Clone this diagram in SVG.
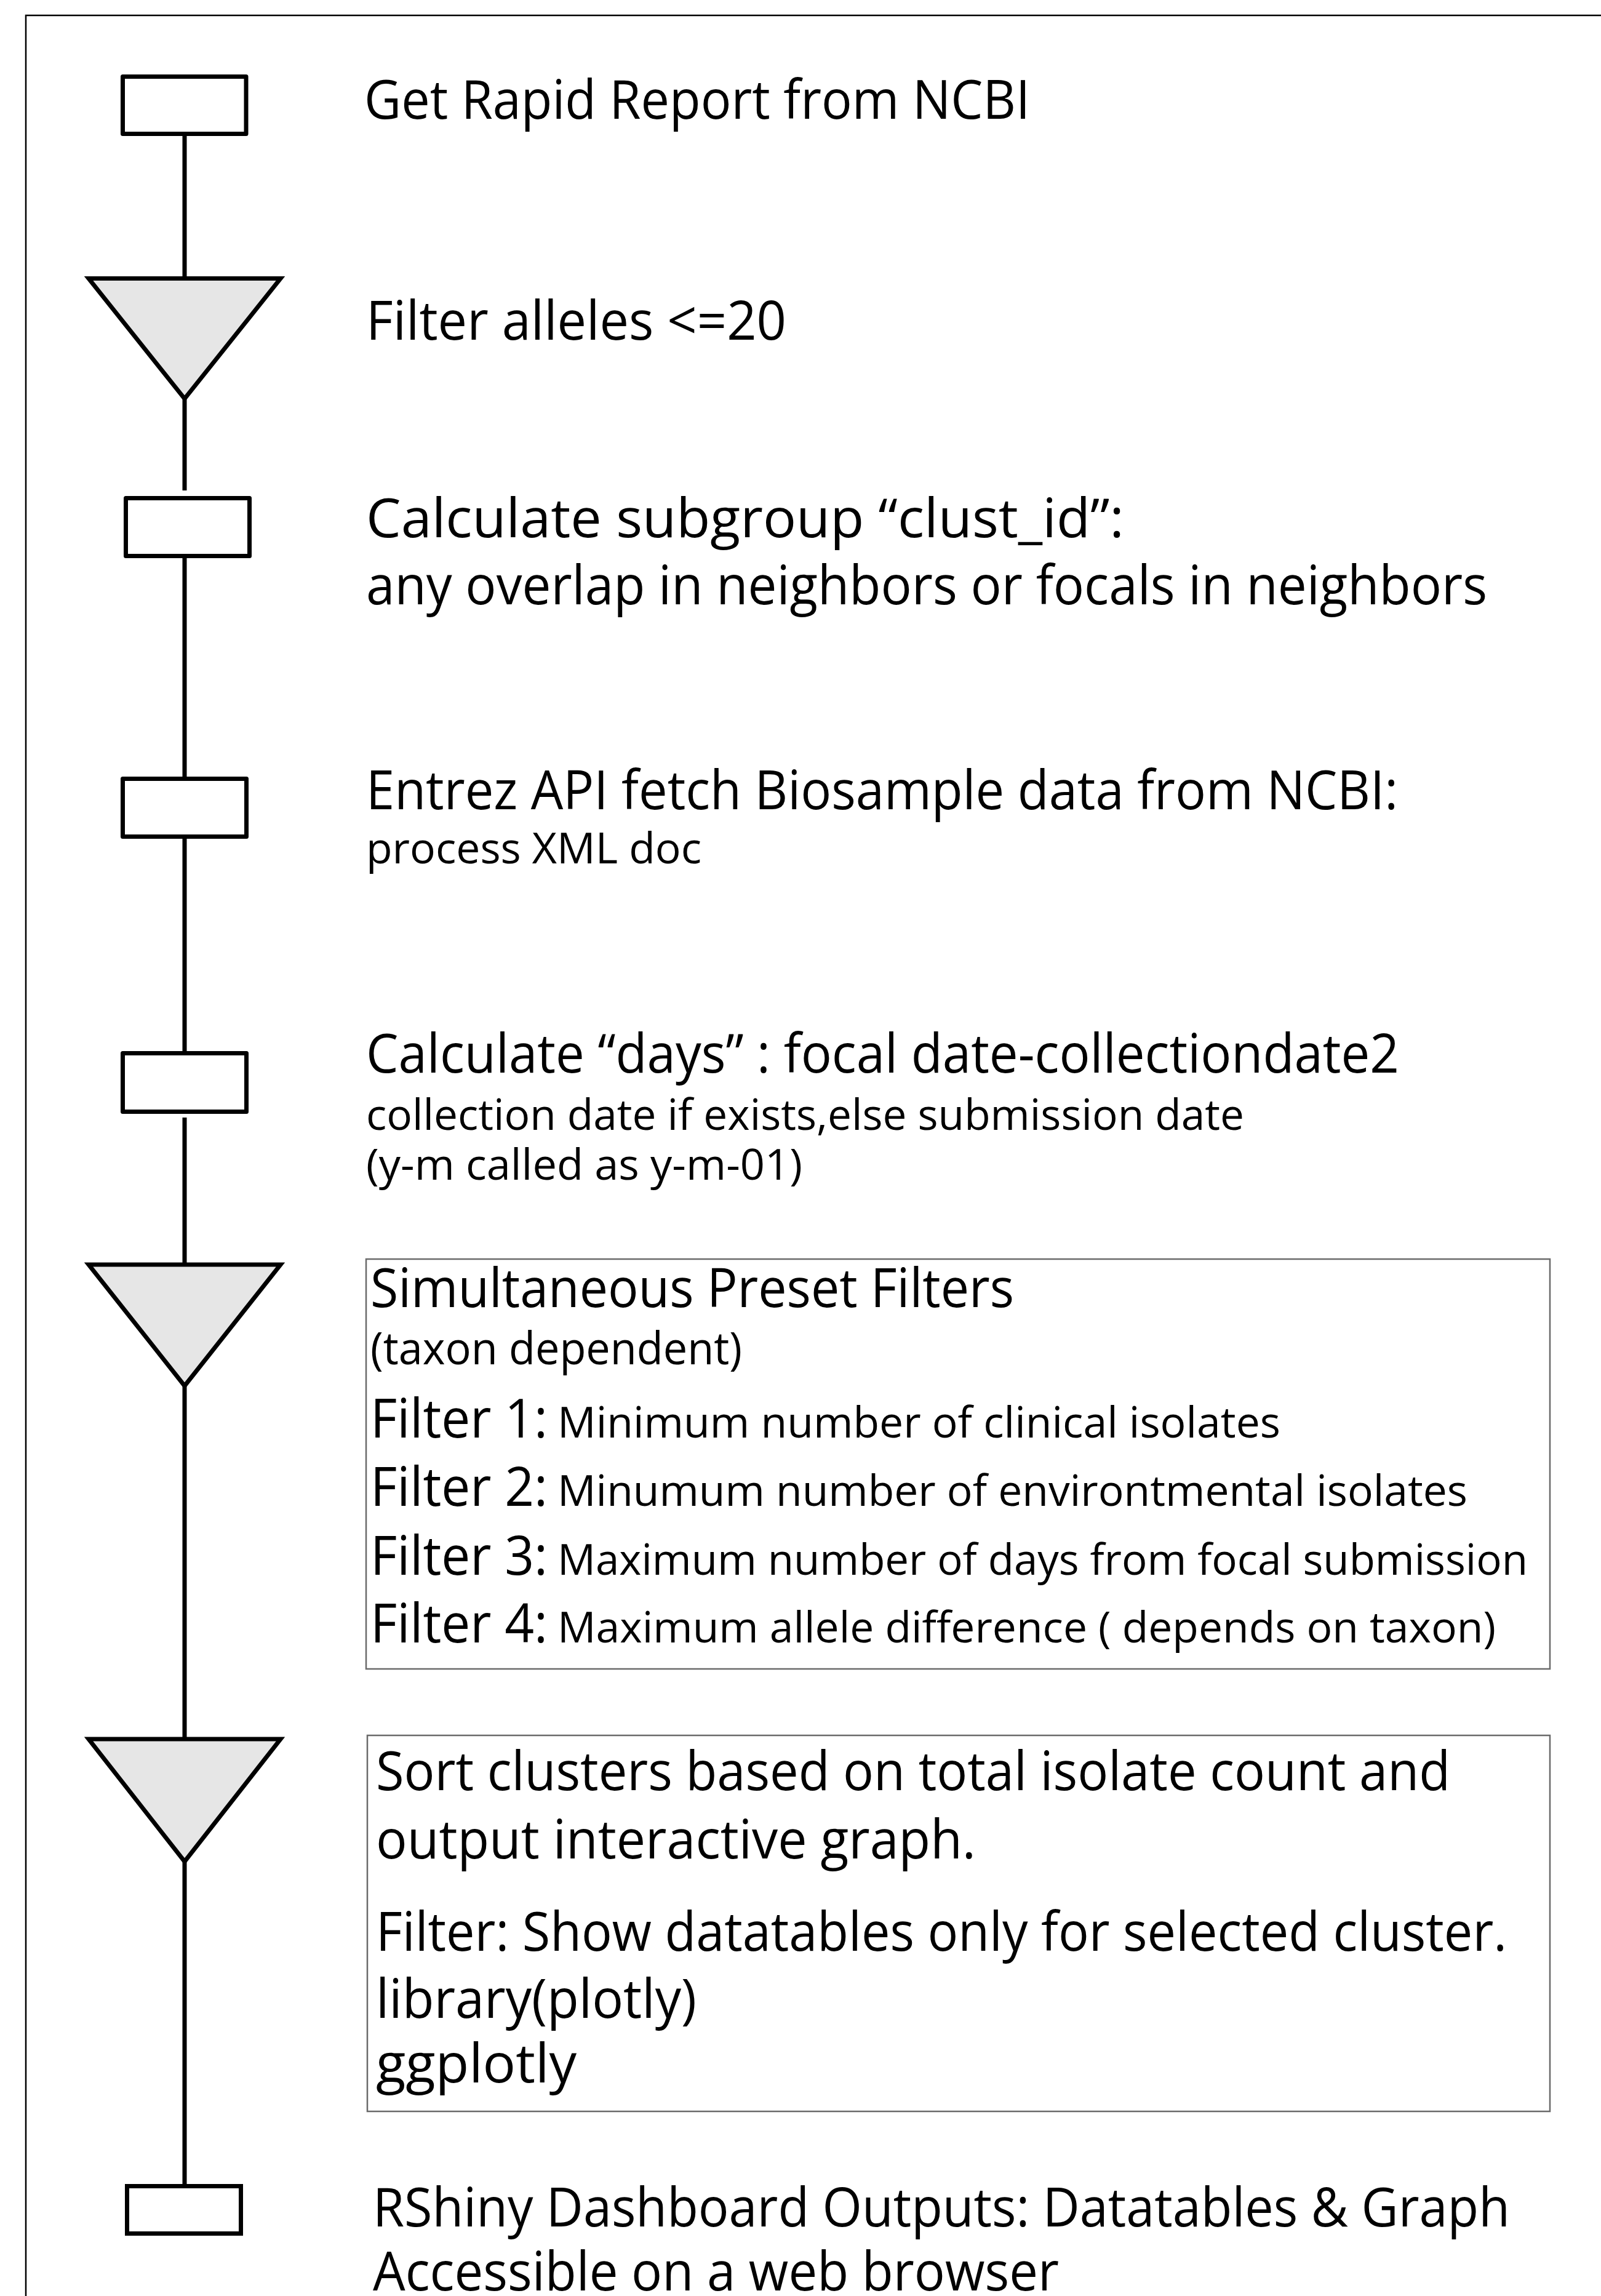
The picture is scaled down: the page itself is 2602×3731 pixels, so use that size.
<svg xmlns="http://www.w3.org/2000/svg" width="2602" height="3731" viewBox="0 0 2602 3731">
<style>
.bg{fill:#ffffff}
.frame{fill:none;stroke:#000;stroke-width:2.5}
.step{fill:#ffffff;stroke:#000;stroke-width:7;stroke-linejoin:round}
.stepsq{fill:#ffffff;stroke:#000;stroke-width:7;stroke-linejoin:miter}
.tri{fill:#e6e6e6;stroke:#000;stroke-width:7;stroke-linejoin:miter;stroke-miterlimit:10}
.conn{stroke:#000;stroke-width:7;fill:none}
.tbox{fill:none;stroke:#6a6a6a;stroke-width:2.5}
text{font-family:"Open Sans","Noto Sans","DejaVu Sans",sans-serif;fill:#000}
.big{font-size:88px}
.mid{font-size:74px}
.small{font-size:70px}
</style>
<rect class="bg" x="0" y="0" width="2602" height="3731"/>
<rect class="frame" x="42" y="25" width="2620" height="3780"/>

<g id="connectors">
<line class="conn" x1="300" y1="218" x2="300" y2="452"/>
<line class="conn" x1="300" y1="648" x2="300" y2="797"/>
<line class="conn" x1="300" y1="903" x2="300" y2="1266"/>
<line class="conn" x1="300" y1="1359" x2="300" y2="1712"/>
<line class="conn" x1="300" y1="1816" x2="300" y2="2055"/>
<line class="conn" x1="300" y1="2252" x2="300" y2="2826"/>
<line class="conn" x1="300" y1="3025" x2="300" y2="3553"/>
</g>

<g id="node1">
<rect class="step" x="199.5" y="124.5" width="200.5" height="93"/>
<text class="big" x="592" y="193" textLength="1082" lengthAdjust="spacingAndGlyphs">Get Rapid Report from NCBI</text>
</g>

<g id="node2">
<polygon class="tri" points="144,452.5 456,452.5 300,648"/>
<text class="big" x="595" y="552" textLength="683" lengthAdjust="spacingAndGlyphs">Filter alleles &lt;=20</text>
</g>

<g id="node3">
<rect class="step" x="204.5" y="809.5" width="201" height="94"/>
<text class="big" x="595" y="873" textLength="1232" lengthAdjust="spacingAndGlyphs">Calculate subgroup “clust_id”:</text>
<text class="big" x="595" y="982" textLength="1822" lengthAdjust="spacingAndGlyphs">any overlap in neighbors or focals in neighbors</text>
</g>

<g id="node4">
<rect class="step" x="199.5" y="1265.5" width="201" height="94"/>
<text class="big" x="595" y="1315" textLength="1677" lengthAdjust="spacingAndGlyphs">Entrez API fetch Biosample data from NCBI:</text>
<text class="small" x="595" y="1403" textLength="545" lengthAdjust="spacingAndGlyphs">process XML doc</text>
</g>

<g id="node5">
<rect class="step" x="199.5" y="1711.5" width="201" height="95"/>
<text class="big" x="595" y="1743" textLength="1679" lengthAdjust="spacingAndGlyphs">Calculate “days” : focal date-collectiondate2</text>
<text class="small" x="595" y="1836" textLength="1427" lengthAdjust="spacingAndGlyphs">collection date if exists,else submission date</text>
<text class="small" x="595" y="1917" textLength="709" lengthAdjust="spacingAndGlyphs">(y-m called as y-m-01)</text>
</g>

<g id="node6">
<polygon class="tri" points="144,2055 456,2055 300,2252"/>
<rect class="tbox" x="595" y="2046" width="1924" height="666"/>
<text class="big" x="602" y="2124" textLength="1046" lengthAdjust="spacingAndGlyphs">Simultaneous Preset Filters</text>
<text class="mid" x="602" y="2217" textLength="604" lengthAdjust="spacingAndGlyphs">(taxon dependent)</text>
<text class="big" x="602" y="2336" textLength="288" lengthAdjust="spacingAndGlyphs">Filter 1:</text>
<text class="small" x="906" y="2336" textLength="1175" lengthAdjust="spacingAndGlyphs">Minimum number of clinical isolates</text>
<text class="big" x="602" y="2447" textLength="288" lengthAdjust="spacingAndGlyphs">Filter 2:</text>
<text class="small" x="906" y="2447" textLength="1479" lengthAdjust="spacingAndGlyphs">Minumum number of environtmental isolates</text>
<text class="big" x="602" y="2559" textLength="288" lengthAdjust="spacingAndGlyphs">Filter 3:</text>
<text class="small" x="906" y="2559" textLength="1577" lengthAdjust="spacingAndGlyphs">Maximum number of days from focal submission</text>
<text class="big" x="602" y="2669" textLength="288" lengthAdjust="spacingAndGlyphs">Filter 4:</text>
<text class="small" x="906" y="2669" textLength="1525" lengthAdjust="spacingAndGlyphs">Maximum allele difference ( depends on taxon)</text>
</g>

<g id="node7">
<polygon class="tri" points="144,2826 456,2826 300,3025"/>
<rect class="tbox" x="597" y="2820" width="1922" height="611"/>
<text class="big" x="611" y="2909" textLength="1746" lengthAdjust="spacingAndGlyphs">Sort clusters based on total isolate count and</text>
<text class="big" x="611" y="3020" textLength="975" lengthAdjust="spacingAndGlyphs">output interactive graph.</text>
<text class="big" x="611" y="3170" textLength="1838" lengthAdjust="spacingAndGlyphs">Filter: Show datatables only for selected cluster.</text>
<text class="big" x="611" y="3279" textLength="521" lengthAdjust="spacingAndGlyphs">library(plotly)</text>
<text class="big" x="611" y="3384" textLength="326" lengthAdjust="spacingAndGlyphs">ggplotly</text>
</g>

<g id="node8">
<rect class="stepsq" x="206.5" y="3552.5" width="185" height="77"/>
<text class="big" x="606" y="3618" textLength="1848" lengthAdjust="spacingAndGlyphs">RShiny Dashboard Outputs: Datatables &amp; Graph</text>
<text class="big" x="606" y="3722" textLength="1115" lengthAdjust="spacingAndGlyphs">Accessible on a web browser</text>
</g>
</svg>
